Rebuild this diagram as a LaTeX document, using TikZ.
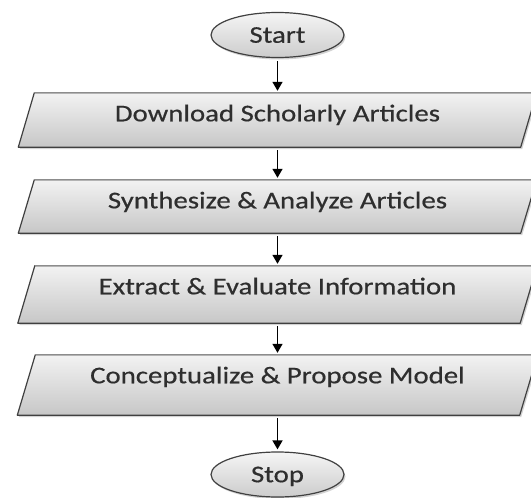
\documentclass[tikz,border=0pt]{standalone}
\usepackage{fontspec}
\setmainfont{Carlito}[FakeStretch=1.2, FakeBold=0.5]
\usetikzlibrary{shapes.geometric,arrows.meta,shadows}
\begin{document}
\begin{tikzpicture}[x=1pt,y=-1pt,
  every node/.style={font=\fontsize{24}{28}\selectfont, text=black!82},
  myshadow/.style={drop shadow={opacity=0.35, shadow xshift=1.5pt, shadow yshift=-2pt}},
  term/.style={ellipse, draw=black!75, line width=1.2pt, minimum width=133pt,
    minimum height=45pt, inner sep=0pt, top color=black!4, bottom color=black!20,
    text height=15.5pt, text depth=0pt, myshadow},
  procframe/.style={rectangle, inner sep=0pt, minimum width=502pt},
  boxshape/.style={draw=black!75, line width=1.2pt, line join=round,
    top color=black!5, bottom color=black!22, myshadow},
  topedge/.style={draw=black!45, line width=1.2pt},
  boxtext/.style={anchor=base, inner sep=0pt},
  flow/.style={draw=black, line width=1.5pt, -{Triangle[width=10pt,length=9pt]},
    shorten >=2pt, shorten <=3pt}
]
\useasboundingbox (0,0) rectangle (531,498);

\node[term] (start) at (277.5,35) {Start};
\node[procframe, minimum height=54pt] (b1) at (277.5,120) {};
\node[procframe, minimum height=53pt] (b2) at (277.5,206.5) {};
\node[procframe, minimum height=57pt] (b3) at (277.5,294.5) {};
\node[procframe, minimum height=60pt] (b4) at (277.5,385) {};
\node[term] (stop) at (277.5,474.5) {Stop};

\foreach \n/\o in {b1/16,b2/16,b3/17,b4/18}{
  \path[boxshape] ([xshift={-0.5*\o pt}]\n.south west) -- ([xshift={-0.5*\o pt}]\n.south east)
     -- ([xshift={0.5*\o pt}]\n.north east) -- ([xshift={0.5*\o pt}]\n.north west) -- cycle;
  \path[topedge] ([xshift={0.5*\o pt}]\n.north west) -- ([xshift={0.5*\o pt}]\n.north east);
}

\node[boxtext] (t1) at ([yshift=-28.5pt]b1.north) {Download Scholarly Articles};
\node[boxtext] (t2) at ([yshift=-28.5pt]b2.north) {Synthesize \& Analyze Articles};
\node[boxtext] (t3) at ([yshift=-28.5pt]b3.north) {Extract \& Evaluate Information};
\node[boxtext] (t4) at ([yshift=-28.5pt]b4.north) {Conceptualize \& Propose Model};

\draw[flow] (start.south) -- (b1.north);
\draw[flow] (b1.south) -- (b2.north);
\draw[flow] (b2.south) -- (b3.north);
\draw[flow] (b3.south) -- (b4.north);
\draw[flow] (b4.south) -- (stop.north);
\end{tikzpicture}
\end{document}
